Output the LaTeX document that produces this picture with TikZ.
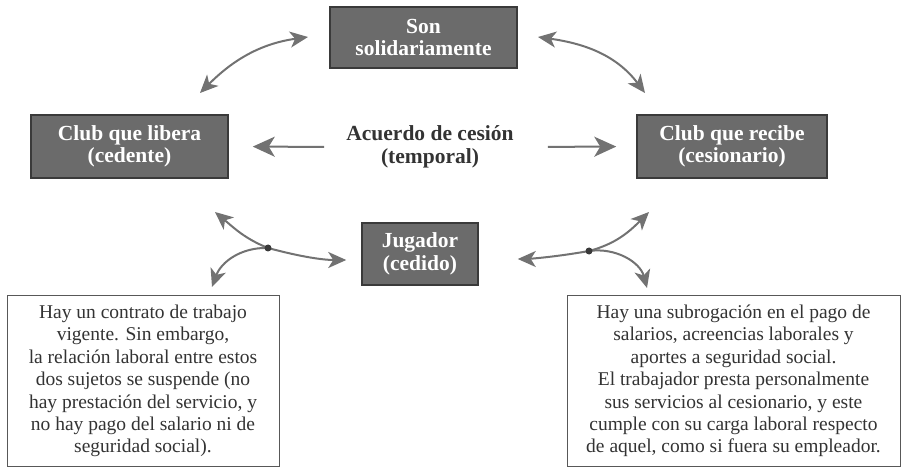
\documentclass[tikz,border=0pt]{standalone}
\usepackage{fontspec}
\setmainfont{Liberation Serif}
\usepackage{xcolor}
\usepackage{tikz}
\usepackage{tkz-euclide}
\usetikzlibrary{arrows.meta}

\definecolor{boxgray}{HTML}{6B6B6B}
\definecolor{edgegray}{HTML}{3A3A3A}
\definecolor{arrowgray}{HTML}{727272}
\definecolor{textgray}{HTML}{333333}

\begin{document}
\begin{tikzpicture}[x=1pt,y=1pt,
		>={Stealth[length=18pt,width=16pt,inset=5pt]},
		club/.style={draw=edgegray,line width=1.5pt,fill=boxgray,text=white,align=center,inner sep=0pt,
			font=\fontsize{21.5}{22.5}\selectfont\bfseries},
		note/.style={draw=edgegray!85,line width=0.8pt,fill=white,text=textgray,align=center,inner sep=0pt,
			font=\fontsize{19.5}{22.4}\selectfont},
		link/.style={draw=arrowgray,line width=2pt,->},
		link2/.style={draw=arrowgray,line width=2pt,<->}]
		\useasboundingbox (0,0) rectangle (904,-470);
		\node[club,minimum width=187pt,minimum height=61pt] (son) at (423.5,-37.5) {Son\\solidariamente};
		\node[club,minimum width=197pt,minimum height=63pt] (libera) at (129.5,-146.5) {Club que libera\\(cedente)};
		\node[club,minimum width=190pt,minimum height=63pt] (recibe) at (732,-146.5) {Club que recibe\\(cesionario)};
		\node[club,minimum width=116pt,minimum height=62pt] (jugador) at (420,-254) {Jugador\\(cedido)};
		\node[text=textgray,align=center,inner sep=0pt,font=\fontsize{21.5}{22.5}\selectfont\bfseries] (acuerdo) at (430,-147) {Acuerdo de cesión\\(temporal)};
		\node[note,minimum width=272pt,minimum height=171pt] (nota1) at (143,-381) {Hay un contrato de trabajo\\vigente. Sin embargo,\\la relación laboral entre estos\\dos sujetos se suspende (no\\hay prestación del servicio, y\\no hay pago del salario ni de\\seguridad social).};
		\node[note,minimum width=333pt,minimum height=171pt] (nota2) at (733.5,-381) {Hay una subrogación en el pago de\\salarios, acreencias laborales y\\aportes a seguridad social.\\El trabajador presta personalmente\\sus servicios al cesionario, y este\\cumple con su carga laboral respecto\\de aquel, como si fuera su empleador.};
		\tkzDefPoint(200,-93){a1}
		\tkzDefPoint(308,-37){a2}
		\tkzDefPoint(538,-37){a3}
		\tkzDefPoint(645,-93){a4}
		\tkzDefPoint(268,-248){jl}
		\tkzDefPoint(215,-212){jl1}
		\tkzDefPoint(212,-287){jl2}
		\tkzDefPoint(589,-251){jr}
		\tkzDefPoint(649,-212){jr1}
		\tkzDefPoint(647,-288){jr2}
		\draw[link2] (a1) to[out=45,in=188] (a2);
		\draw[link2] (a3) to[out=-8,in=127] (a4);
		\draw[link,-{Stealth[length=22pt,width=20pt,inset=6pt]},shorten <=22pt,shorten >=24pt] (acuerdo.west) -- (libera.east);
		\draw[link,-{Stealth[length=22pt,width=20pt,inset=6pt]},shorten <=34pt,shorten >=20pt] (acuerdo.east) -- (recibe.west);
		\draw[link] (jl) to[out=158,in=-40] (jl1);
		\draw[link,shorten >=15pt] (jl) to[out=-15,in=180] ([yshift=-6pt]jugador.west);
		\draw[link] (jl) to[out=178,in=70] (jl2);
		\draw[link,shorten >=39pt] (jr) to[out=190,in=0] ([yshift=-5pt]jugador.east);
		\draw[link] (jr) to[out=15,in=-135] (jr1);
		\draw[link] (jr) to[out=8,in=105] (jr2);
		\fill[edgegray] (jl) circle (3.5);
		\fill[edgegray] (jr) circle (3.5);
	\end{tikzpicture}
\end{document}
